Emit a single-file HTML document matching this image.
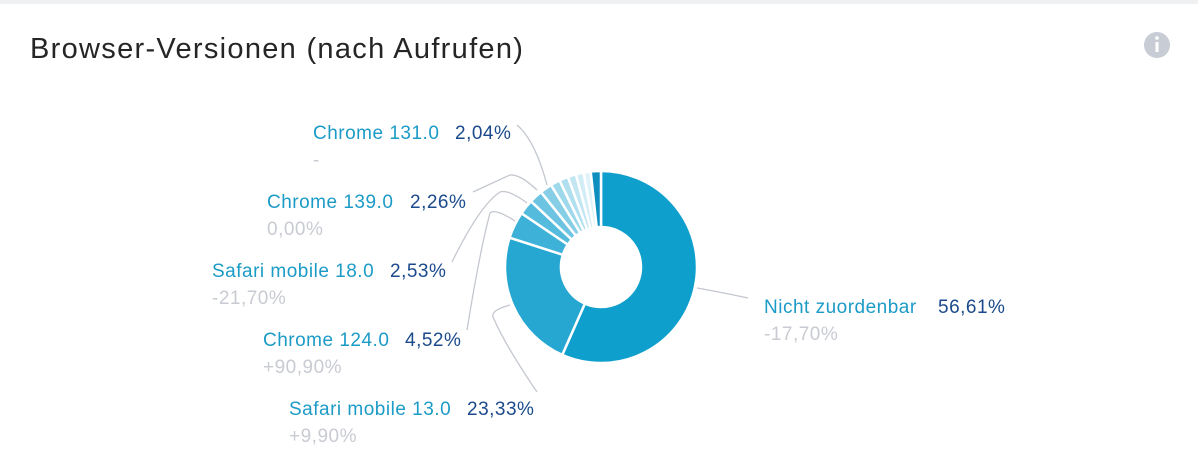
<!DOCTYPE html>
<html><head><meta charset="utf-8"><style>
html,body{margin:0;padding:0;background:#fff;}
body{width:1198px;height:459px;overflow:hidden;position:relative;font-family:"Liberation Sans","DejaVu Sans",sans-serif;}
.top{position:absolute;left:0;top:0;width:1198px;height:4px;background:#eef0f2;}
svg{position:absolute;left:0;top:0;}
</style></head><body>
<div class="top"></div>
<svg width="1198" height="459" viewBox="0 0 1198 459" font-family="Liberation Sans, DejaVu Sans, sans-serif">
<text x="30" y="58" font-size="29" letter-spacing="1.3" fill="#252525">Browser-Versionen (nach Aufrufen)</text>
<circle cx="1157" cy="45" r="13" fill="#c8ccd5"/>
<rect x="1155.5" y="42" width="3" height="10" fill="#fff"/>
<circle cx="1157" cy="38" r="1.8" fill="#fff"/>
<g id="pie" stroke="#fff" stroke-width="2.5"></g>
<g fill="none" stroke="#c3c7cf" stroke-width="1.3">
<path d="M517 125 Q535 140 547 185"/>
<path d="M473 192 L510 175 Q520 174 537 190"/>
<path d="M452 262 Q480 205 500 192 Q508 189 527 203"/>
<path d="M467 330 Q480 250 490 213 Q495 208 515 221"/>
<path d="M537 392 Q505 345 493 317 Q491 310 510 305"/>
<path d="M697 288 Q720 292 748 298"/>
</g>
<g font-size="19" letter-spacing="0.5">
<text x="313" y="139" fill="#1c9bc7">Chrome 131.0</text><text x="455" y="139" fill="#1b4a8c">2,04%</text>
<text x="313" y="166" fill="#c8cbd2">-</text>
<text x="267" y="208" fill="#1c9bc7">Chrome 139.0</text><text x="410" y="208" fill="#1b4a8c">2,26%</text>
<text x="267" y="235" fill="#c8cbd2">0,00%</text>
<text x="212" y="277" fill="#1c9bc7">Safari mobile 18.0</text><text x="390" y="277" fill="#1b4a8c">2,53%</text>
<text x="212" y="304" fill="#c8cbd2">-21,70%</text>
<text x="263" y="346" fill="#1c9bc7">Chrome 124.0</text><text x="405" y="346" fill="#1b4a8c">4,52%</text>
<text x="263" y="373" fill="#c8cbd2">+90,90%</text>
<text x="289" y="415" fill="#1c9bc7">Safari mobile 13.0</text><text x="467" y="415" fill="#1b4a8c">23,33%</text>
<text x="289" y="442" fill="#c8cbd2">+9,90%</text>
<text x="764" y="313" fill="#1c9bc7">Nicht zuordenbar</text><text x="938" y="313" fill="#1b4a8c">56,61%</text>
<text x="764" y="340" fill="#c8cbd2">-17,70%</text>
</g>
</svg>
<script>
var d=[[56.61,"#0e9fcc"],[23.33,"#26a7d2"],[4.52,"#3eb1d8"],[2.53,"#55bbdd"],[2.26,"#6cc4e2"],[2.04,"#85cee6"],[1.6,"#9dd8eb"],[1.5,"#b0dfef"],[1.4,"#c2e7f3"],[1.3,"#d2edf6"],[1.2,"#e0f3f9"],[1.71,"#0e8fc0"]];
var tot=0;d.forEach(function(s){tot+=s[0];});
var cx=601,cy=267,R=96,r=40,a=0,g=document.getElementById('pie'),h='';
function p(rad,ang){return [cx+rad*Math.sin(ang),cy-rad*Math.cos(ang)];}
d.forEach(function(s){var b=a+s[0]/tot*2*Math.PI;var l=(b-a)>Math.PI?1:0;
var A=p(R,a),B=p(R,b),C=p(r,b),D=p(r,a);
h+='<path fill="'+s[1]+'" d="M'+A+' A'+R+' '+R+' 0 '+l+' 1 '+B+' L'+C+' A'+r+' '+r+' 0 '+l+' 0 '+D+'Z"/>';a=b;});
g.innerHTML=h;
</script>
</body></html>
